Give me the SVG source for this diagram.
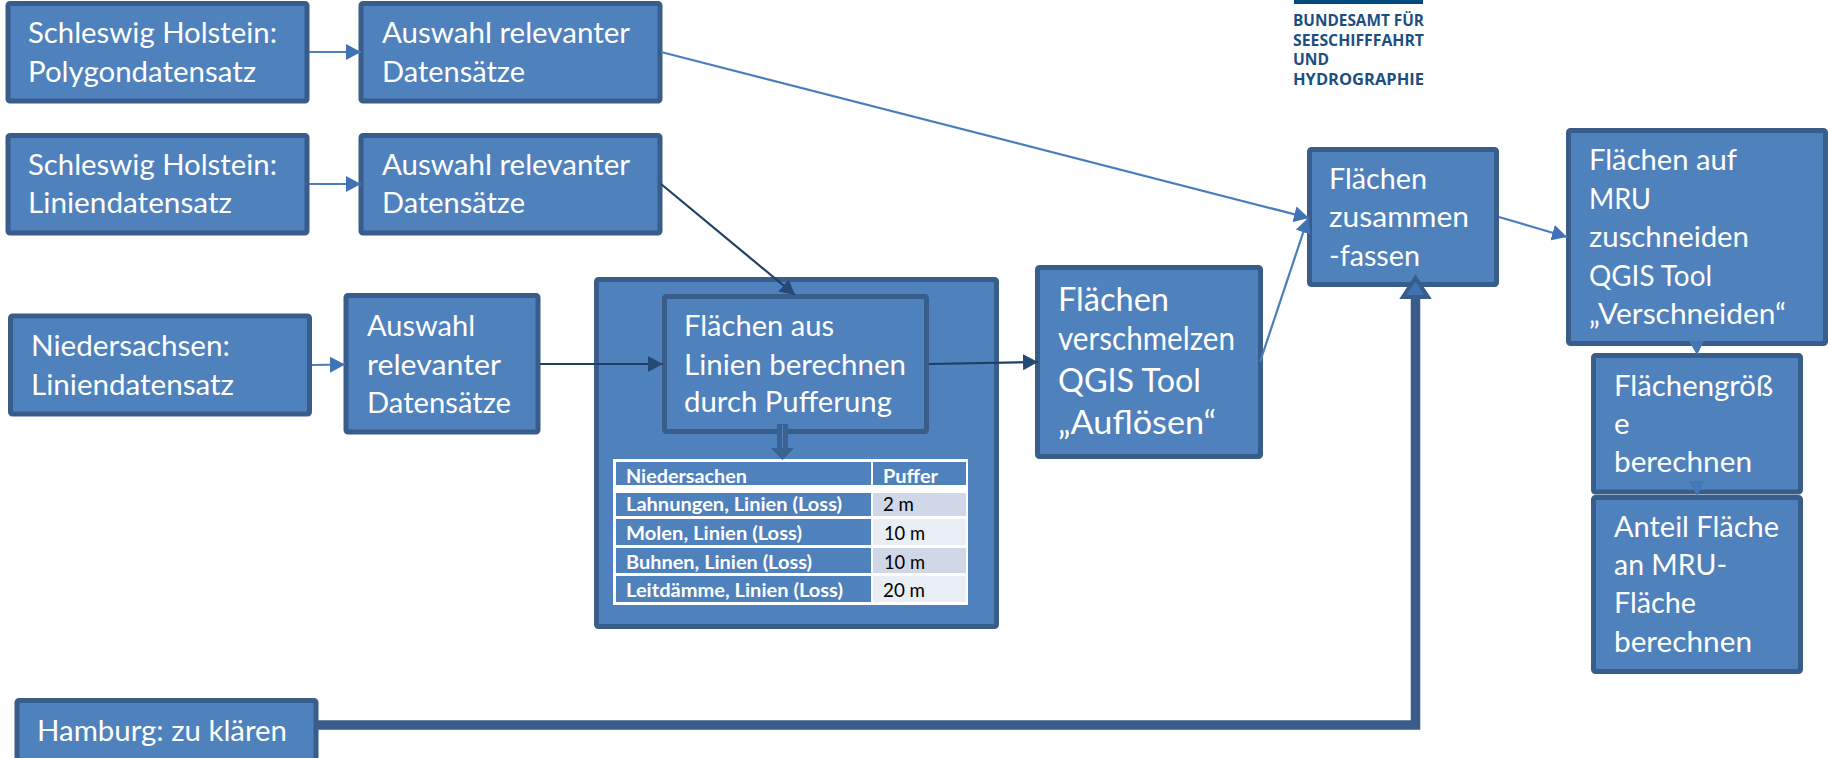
<svg xmlns="http://www.w3.org/2000/svg" width="1828" height="758" viewBox="0 0 1828 758">
<style>
.b{fill:#4f81bd;stroke:#385d8a;stroke-width:5}
.t{font-family:Lato,"Liberation Sans",sans-serif;fill:#fff;font-size:29.5px}
.t2{font-size:33px}
.h{font-family:Lato,"Liberation Sans",sans-serif;fill:#fff;font-size:18.5px;font-weight:700}
.v{font-family:Lato,"Liberation Sans",sans-serif;fill:#000;font-size:18.5px}
.l{font-family:"Open Sans","Liberation Sans",sans-serif;fill:#1c4f80;font-size:16px;font-weight:700}
.c1{fill:none;stroke:#4a7ebb;stroke-width:2.2}
.c2{fill:none;stroke:#1f3f66;stroke-width:2.2}
</style>
<defs>
<marker id="mb" markerUnits="userSpaceOnUse" markerWidth="16" markerHeight="16" refX="15" refY="8" orient="auto"><path d="M0 0L15 8L0 16Z" fill="#4073b4"/></marker>
<marker id="md" markerUnits="userSpaceOnUse" markerWidth="16" markerHeight="16" refX="15" refY="8" orient="auto"><path d="M0 0L15 8L0 16Z" fill="#254a75"/></marker>
</defs>
<rect width="1828" height="758" fill="#fff"/>
<g id="logo"><rect x="1294" y="0" width="129" height="4" fill="#004a80"/>
<text class="l" x="1293" y="26" textLength="131" lengthAdjust="spacingAndGlyphs">BUNDESAMT FÜR</text>
<text class="l" x="1293" y="46" textLength="131" lengthAdjust="spacingAndGlyphs">SEESCHIFFFAHRT</text>
<text class="l" x="1293" y="65" textLength="36" lengthAdjust="spacingAndGlyphs">UND</text>
<text class="l" x="1293" y="85" textLength="131" lengthAdjust="spacingAndGlyphs">HYDROGRAPHIE</text></g>
<g id="n1"><rect class="b" x="8" y="3.500" width="299" height="97.500" rx="2"/>
<text class="t" x="28" y="43" textLength="249" lengthAdjust="spacingAndGlyphs">Schleswig Holstein:</text>
<text class="t" x="28" y="82" textLength="228" lengthAdjust="spacingAndGlyphs">Polygondatensatz</text></g>
<g id="n2"><rect class="b" x="361" y="3.500" width="299" height="97.500" rx="2"/>
<text class="t" x="382" y="43" textLength="248" lengthAdjust="spacingAndGlyphs">Auswahl relevanter</text>
<text class="t" x="382" y="82" textLength="143" lengthAdjust="spacingAndGlyphs">Datensätze</text></g>
<g id="n3"><rect class="b" x="8" y="135.500" width="299" height="97.500" rx="2"/>
<text class="t" x="28" y="175" textLength="249" lengthAdjust="spacingAndGlyphs">Schleswig Holstein:</text>
<text class="t" x="28" y="213" textLength="204" lengthAdjust="spacingAndGlyphs">Liniendatensatz</text></g>
<g id="n4"><rect class="b" x="361" y="135.500" width="299" height="97.500" rx="2"/>
<text class="t" x="382" y="175" textLength="248" lengthAdjust="spacingAndGlyphs">Auswahl relevanter</text>
<text class="t" x="382" y="213" textLength="143" lengthAdjust="spacingAndGlyphs">Datensätze</text></g>
<g id="n5"><rect class="b" x="10.500" y="316" width="299" height="98" rx="2"/>
<text class="t" x="31" y="356" textLength="199" lengthAdjust="spacingAndGlyphs">Niedersachsen:</text>
<text class="t" x="31" y="395" textLength="203" lengthAdjust="spacingAndGlyphs">Liniendatensatz</text></g>
<g id="n6"><rect class="b" x="346" y="295.500" width="192" height="136.500" rx="2"/>
<text class="t" x="367" y="336" textLength="108" lengthAdjust="spacingAndGlyphs">Auswahl</text>
<text class="t" x="367" y="375" textLength="134" lengthAdjust="spacingAndGlyphs">relevanter</text>
<text class="t" x="367" y="413" textLength="144" lengthAdjust="spacingAndGlyphs">Datensätze</text></g>
<g id="n7"><rect class="b" x="596.500" y="279.500" width="400" height="347" rx="2"/></g>
<g id="n8"><rect class="b" x="664.500" y="296.500" width="262" height="135" rx="2"/>
<text class="t" x="684" y="336" textLength="150" lengthAdjust="spacingAndGlyphs">Flächen aus</text>
<text class="t" x="684" y="375" textLength="222" lengthAdjust="spacingAndGlyphs">Linien berechnen</text>
<text class="t" x="684" y="412" textLength="208" lengthAdjust="spacingAndGlyphs">durch Pufferung</text></g>
<g id="table"><rect x="613" y="459" width="355" height="146" fill="#fff"/>
<rect x="616" y="462" width="255" height="23" fill="#4f81bd"/><rect x="873" y="462" width="93" height="23" fill="#4f81bd"/>
<rect x="616" y="493" width="255" height="23" fill="#4f81bd"/><rect x="873" y="493" width="93" height="23" fill="#d0d8e8"/>
<rect x="616" y="519" width="255" height="26" fill="#4f81bd"/><rect x="873" y="519" width="93" height="26" fill="#e9edf4"/>
<rect x="616" y="548" width="255" height="25" fill="#4f81bd"/><rect x="873" y="548" width="93" height="25" fill="#d0d8e8"/>
<rect x="616" y="576" width="255" height="26" fill="#4f81bd"/><rect x="873" y="576" width="93" height="26" fill="#e9edf4"/>
<text class="h" x="626" y="483" textLength="121" lengthAdjust="spacingAndGlyphs">Niedersachen</text>
<text class="h" x="883" y="483" textLength="55" lengthAdjust="spacingAndGlyphs">Puffer</text>
<text class="h" x="626" y="511" textLength="216" lengthAdjust="spacingAndGlyphs">Lahnungen, Linien (Loss)</text>
<text class="v" x="883" y="511" textLength="31" lengthAdjust="spacingAndGlyphs">2 m</text>
<text class="h" x="626" y="540" textLength="176" lengthAdjust="spacingAndGlyphs">Molen, Linien (Loss)</text>
<text class="v" x="884" y="540" textLength="41" lengthAdjust="spacingAndGlyphs">10 m</text>
<text class="h" x="626" y="569" textLength="186" lengthAdjust="spacingAndGlyphs">Buhnen, Linien (Loss)</text>
<text class="v" x="884" y="569" textLength="41" lengthAdjust="spacingAndGlyphs">10 m</text>
<text class="h" x="626" y="597" textLength="217" lengthAdjust="spacingAndGlyphs">Leitdämme, Linien (Loss)</text>
<text class="v" x="883" y="597" textLength="42" lengthAdjust="spacingAndGlyphs">20 m</text></g>
<g id="n9"><rect class="b" x="1037.500" y="267.500" width="223" height="189" rx="2"/>
<text class="t t2" x="1058" y="311" textLength="111" lengthAdjust="spacingAndGlyphs">Flächen</text>
<text class="t t2" x="1058" y="350" textLength="177" lengthAdjust="spacingAndGlyphs">verschmelzen</text>
<text class="t t2" x="1058" y="392" textLength="143" lengthAdjust="spacingAndGlyphs">QGIS Tool</text>
<text class="t t2" x="1058" y="434" textLength="158" lengthAdjust="spacingAndGlyphs">„Auflösen“</text></g>
<g id="n10"><rect class="b" x="1309.500" y="149.500" width="187" height="135" rx="2"/>
<text class="t" x="1329" y="189" textLength="98" lengthAdjust="spacingAndGlyphs">Flächen</text>
<text class="t" x="1329" y="227" textLength="140" lengthAdjust="spacingAndGlyphs">zusammen</text>
<text class="t" x="1329" y="266" textLength="91" lengthAdjust="spacingAndGlyphs">-fassen</text></g>
<g id="n11"><rect class="b" x="1568.500" y="130.500" width="257" height="213" rx="2"/>
<text class="t" x="1589" y="170" textLength="148" lengthAdjust="spacingAndGlyphs">Flächen auf</text>
<text class="t" x="1589" y="209" textLength="62" lengthAdjust="spacingAndGlyphs">MRU</text>
<text class="t" x="1589" y="247" textLength="160" lengthAdjust="spacingAndGlyphs">zuschneiden</text>
<text class="t" x="1589" y="286" textLength="123" lengthAdjust="spacingAndGlyphs">QGIS Tool</text>
<text class="t" x="1589" y="324" textLength="197" lengthAdjust="spacingAndGlyphs">„Verschneiden“</text></g>
<g id="n12"><rect class="b" x="1593.500" y="355.500" width="207" height="136.500" rx="2"/>
<text class="t" x="1614" y="396" textLength="159" lengthAdjust="spacingAndGlyphs">Flächengröß</text>
<text class="t" x="1614" y="434">e</text>
<text class="t" x="1614" y="472" textLength="138" lengthAdjust="spacingAndGlyphs">berechnen</text></g>
<g id="n13"><rect class="b" x="1593.500" y="497.500" width="207" height="174" rx="2"/>
<text class="t" x="1614" y="537" textLength="165" lengthAdjust="spacingAndGlyphs">Anteil Fläche</text>
<text class="t" x="1614" y="575" textLength="113" lengthAdjust="spacingAndGlyphs">an MRU-</text>
<text class="t" x="1614" y="613" textLength="82" lengthAdjust="spacingAndGlyphs">Fläche</text>
<text class="t" x="1614" y="652" textLength="138" lengthAdjust="spacingAndGlyphs">berechnen</text></g>
<g id="n14"><rect class="b" x="17" y="700.500" width="299" height="62" rx="2"/>
<text class="t" x="37" y="741" textLength="250" lengthAdjust="spacingAndGlyphs">Hamburg: zu klären</text></g>
<g id="connectors">
<path class="c1" d="M309 52H361" marker-end="url(#mb)"/>
<path class="c1" d="M309 184H361" marker-end="url(#mb)"/>
<path class="c1" d="M661 52L1309 218" marker-end="url(#mb)"/>
<path class="c2" d="M661 184L795 295" marker-end="url(#md)"/>
<path class="c2" d="M540 364H663" marker-end="url(#md)"/>
<path class="c2" d="M929 364L1038 362" marker-end="url(#md)"/>
<path class="c1" d="M1260 362L1308 218" marker-end="url(#mb)"/>
<path class="c1" d="M1499 217L1567 237" marker-end="url(#mb)"/>
<path class="c1" d="M312 365L345 364.500" marker-end="url(#mb)"/>
<path d="M318 725H1415.500V298" fill="none" stroke="#385d8a" stroke-width="9.500"/>
<path d="M1415.500 278L1428 297H1403Z" fill="#4073b4" stroke="#385d8a" stroke-width="4"/>
<path d="M777 424H788V448H794L782.500 460L771 448H777Z" fill="#3a6293"/>
<path d="M782.500 425V448" stroke="#4f81bd" stroke-width="1" fill="none"/>
<path d="M1689 341H1704L1697 355Z" fill="#4477b5"/>
<path d="M1689 481H1704L1697 496Z" fill="#4477b5"/>
</g>
</svg>
